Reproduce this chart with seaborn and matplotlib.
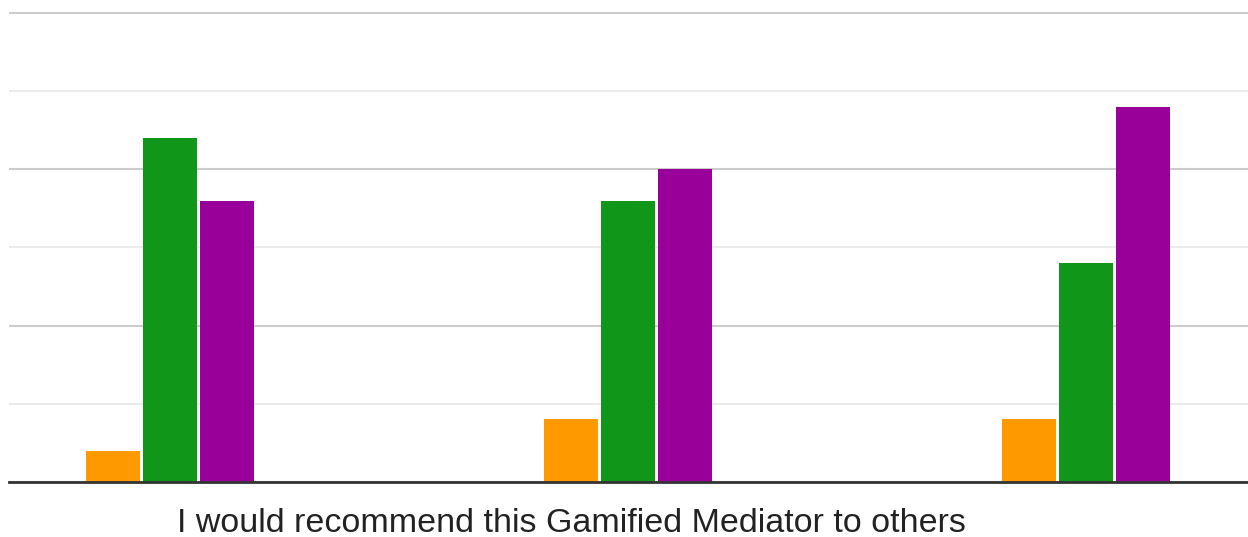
import matplotlib
matplotlib.use("Agg")
import matplotlib.pyplot as plt
import seaborn as sns
import pandas as pd
from matplotlib.ticker import MultipleLocator

# Survey responses per item; the first two answer options received no votes
groups = ["A", "B", "C"]
options = ["1", "2", "3", "4", "5"]
counts_1 = [0, 0, 0]
counts_2 = [0, 0, 0]
counts_3 = [1, 2, 2]
counts_4 = [11, 9, 7]
counts_5 = [9, 10, 12]
option_colors = ["#3366cc", "#dc3912", "#ff9900", "#109618", "#990099"]
axis_label = "I would recommend this Gamified Mediator to others"

rows = []
for opt, vals in zip(options, [counts_1, counts_2, counts_3, counts_4, counts_5]):
    for g, v in zip(groups, vals):
        rows.append({"group": g, "option": opt, "count": v})
df = pd.DataFrame(rows)

sns.set_theme(style="white")
plt.rcParams["font.family"] = ["Liberation Sans", "DejaVu Sans"]

W, H = 1248, 537
fig = plt.figure(figsize=(W / 100, H / 100), dpi=100)
left_px, right_px, top_px, base_px = 9, 1248, 6.7, 482
ax = fig.add_axes([left_px / W, (H - base_px) / H,
                   (right_px - left_px) / W, (base_px - top_px) / H])

sns.barplot(data=df, x="group", y="count", hue="option", hue_order=options,
            palette=option_colors, width=0.622, gap=0.05, saturation=1,
            edgecolor="none", legend=False, ax=ax)

ax.set_xlim(-0.227, 2.478)
ax.set_ylim(0, 15.2)

# Major and minor horizontal gridlines
ax.yaxis.set_major_locator(MultipleLocator(5))
ax.yaxis.set_minor_locator(MultipleLocator(2.5))
ax.grid(False)
ax.grid(True, which="major", axis="y", color="#cccccc", linewidth=1.5)
ax.grid(True, which="minor", axis="y", color="#ebebeb", linewidth=1.5)
ax.set_axisbelow(True)

ax.tick_params(axis="both", which="both", length=0, labelleft=False, labelbottom=False)
for side in ["top", "right", "left"]:
    ax.spines[side].set_visible(False)
ax.spines["bottom"].set_color("#333333")
ax.spines["bottom"].set_linewidth(2)

ax.set_ylabel("")
ax.set_xlabel(axis_label, fontsize=24.5, color="#222222")
ax.xaxis.set_label_coords((571 - left_px) / (right_px - left_px), -0.055)
ax.xaxis.label.set_verticalalignment("top")

fig.savefig("out.png", dpi=100, facecolor="white")
